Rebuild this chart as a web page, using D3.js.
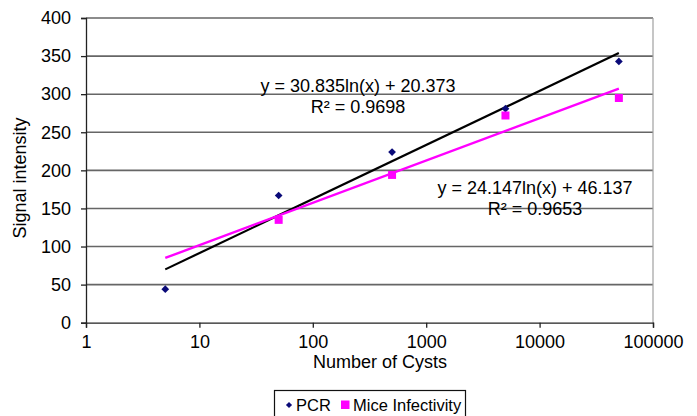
<!DOCTYPE html>
<html>
<head>
<meta charset="utf-8">
<script src="https://cdn.jsdelivr.net/npm/d3@7"></script>
<style>
    body { margin: 0; background: #fff; }
    svg { display: block; font-family: "Liberation Sans", Arial, sans-serif; }
    .grid line { stroke: #666; stroke-width: 1.6px; }
</style>
</head>
<body>
<svg id="chart" width="697" height="416"></svg>
<script>
// values
const cysts = [5, 50, 500, 5000, 50000];
const pcr = [44, 167, 224, 281, 343];
const miceCysts = [50, 500, 5000, 50000];
const mice = [135, 194, 272, 295];

// trendline coefficients, from the equations printed on the chart
const fitSlope = [30.835, 24.147];
const fitIntercept = [20.373, 46.137];
const fitRange = [5, 50000];
const fitLabels = [
    ["y = 30.835ln(x) + 20.373", "R\u00b2 = 0.9698"],
    ["y = 24.147ln(x) + 46.137", "R\u00b2 = 0.9653"]
];

const xTicks = [1, 10, 100, 1000, 10000, 100000];
const yTicks = [0, 50, 100, 150, 200, 250, 300, 350, 400];

const svg = d3.select("#chart");

const x = d3.scaleLog().domain([1, 100000]).range([86, 653]);
const y = d3.scaleLinear().domain([0, 400]).range([322.7, 18]);

// horizontal gridlines
svg.append("g")
    .attr("class", "grid")
    .selectAll("line")
    .data(yTicks.filter(d => d > 0))
    .enter().append("line")
    .attr("x1", x(1))
    .attr("x2", x(100000))
    .attr("y1", d => y(d))
    .attr("y2", d => y(d));

// right border of plot area
svg.append("line")
    .attr("x1", x(100000)).attr("x2", x(100000))
    .attr("y1", y(400)).attr("y2", y(0))
    .style("stroke", "#a0a0a0")
    .style("stroke-width", "1.2px");

// axes
const yAxis = d3.axisLeft(y).tickValues(yTicks).tickSize(5).tickPadding(10);
const xAxis = d3.axisBottom(x).tickValues(xTicks).tickSize(5).tickPadding(7)
    .tickFormat(d3.format("d"));

const yg = svg.append("g")
    .attr("transform", "translate(" + x(1) + ",0)")
    .call(yAxis);
const xg = svg.append("g")
    .attr("transform", "translate(0," + y(0) + ")")
    .call(xAxis);

[xg, yg].forEach(g => {
    g.select(".domain").style("stroke", "#222").style("stroke-width", "1.3px");
    g.selectAll(".tick line").style("stroke", "#222").style("stroke-width", "1.3px");
    g.selectAll(".tick text")
        .style("font-family", "'Liberation Sans', Arial, sans-serif")
        .style("font-size", "18px")
        .style("fill", "#000");
});
xg.selectAll(".tick text").attr("dy", "0.75em");

// axis titles
svg.append("text")
    .attr("x", 380)
    .attr("y", 368)
    .attr("text-anchor", "middle")
    .style("font-size", "18px")
    .style("fill", "#000")
    .text("Number of Cysts");

svg.append("text")
    .attr("transform", "translate(26,178) rotate(-90)")
    .attr("text-anchor", "middle")
    .style("font-size", "18px")
    .style("fill", "#000")
    .text("Signal intensity");

// trendlines (straight on a log x axis, so the two ends are enough)
const fitColors = ["#000000", "#ff00ff"];
const fitWidths = [2.2, 2.4];
const line = d3.line().x(d => x(d[0])).y(d => y(d[1]));

fitSlope.forEach((s, i) => {
    const pts = fitRange.map(c => [c, s * Math.log(c) + fitIntercept[i]]);
    svg.append("path")
        .datum(pts)
        .attr("d", line)
        .style("fill", "none")
        .style("stroke", fitColors[i])
        .style("stroke-width", fitWidths[i] + "px");
});

// PCR markers (navy diamonds)
svg.append("g").selectAll("path")
    .data(cysts.map((c, i) => [c, pcr[i]]))
    .enter().append("path")
    .attr("d", d3.symbol().type(d3.symbolDiamond2).size(38))
    .attr("transform", d => "translate(" + x(d[0]) + "," + y(d[1]) + ")")
    .style("fill", "#0a0a78");

// Mice infectivity markers (magenta squares)
svg.append("g").selectAll("rect")
    .data(miceCysts.map((c, i) => [c, mice[i]]))
    .enter().append("rect")
    .attr("x", d => x(d[0]) - 4)
    .attr("y", d => y(d[1]) - 4)
    .attr("width", 8)
    .attr("height", 8)
    .style("fill", "#ff00ff");

// equation labels
const labelPos = [[358, 92], [535, 194]];
fitLabels.forEach((lines, i) => {
    lines.forEach((t, j) => {
        svg.append("text")
            .attr("x", labelPos[i][0])
            .attr("y", labelPos[i][1] + j * 21)
            .attr("text-anchor", "middle")
            .style("font-size", "18px")
            .style("fill", "#000")
            .text(t);
    });
});

// legend
const legend = svg.append("g");
legend.append("rect")
    .attr("x", 274.5).attr("y", 390.5)
    .attr("width", 191).attr("height", 30)
    .style("fill", "#fff")
    .style("stroke", "#111")
    .style("stroke-width", "1.2px");
legend.append("path")
    .attr("d", d3.symbol().type(d3.symbolDiamond2).size(24))
    .attr("transform", "translate(289,405)")
    .style("fill", "#0a0a78");
legend.append("text")
    .attr("x", 296).attr("y", 410.5)
    .style("font-size", "16.5px")
    .style("fill", "#000")
    .text("PCR");
legend.append("rect")
    .attr("x", 341).attr("y", 400.5)
    .attr("width", 8.5).attr("height", 8.5)
    .style("fill", "#ff00ff");
legend.append("text")
    .attr("x", 353).attr("y", 410.5)
    .style("font-size", "16.5px")
    .style("fill", "#000")
    .text("Mice Infectivity");
</script>
</body>
</html>
